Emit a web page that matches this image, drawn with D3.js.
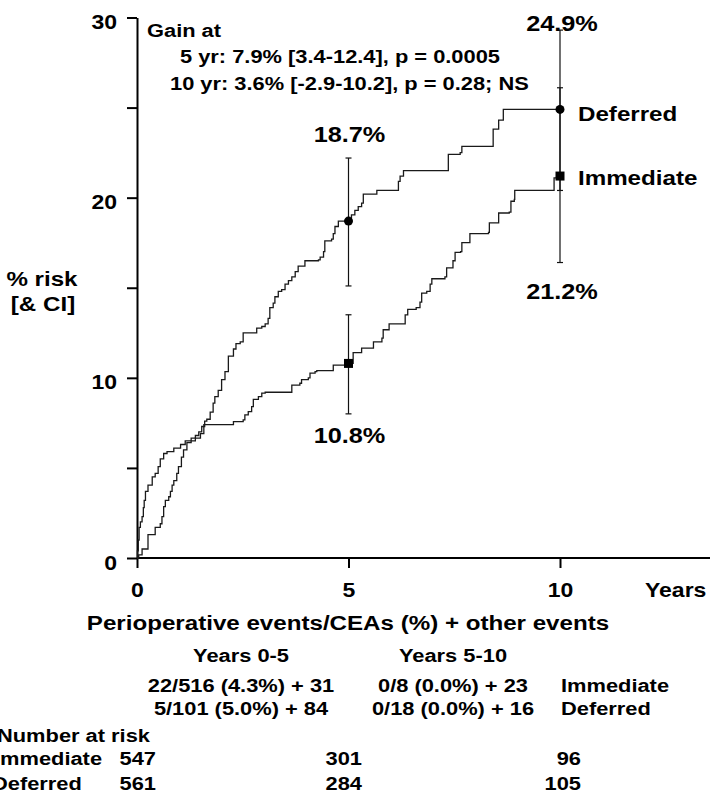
<!DOCTYPE html>
<html>
<head>
<meta charset="utf-8">
<script src="https://cdnjs.cloudflare.com/ajax/libs/d3/7.8.5/d3.min.js"></script>
<style>
  body { margin: 0; background: #fff; }
  svg text { font-family: "Liberation Sans", Arial, Helvetica, sans-serif; font-weight: bold; fill: #000; }
</style>
</head>
<body>
<div id="chart"></div>
<script>
// step curves: [years, % risk]
const immediateSteps = [[0,0],[0.01,0.4],[0.03,1.0],[0.05,1.7],[0.08,2.0],[0.12,2.3],[0.15,2.8],[0.17,3.2],[0.2,3.7],[0.26,4.05],[0.36,4.5],[0.43,4.7],[0.5,5.07],[0.55,5.5],[0.63,5.8],[0.71,5.9],[0.87,6.1],[1.03,6.3],[1.14,6.5],[1.38,6.65],[1.5,6.9],[1.58,7.4],[2.28,7.57],[2.51,7.67],[2.55,7.94],[2.63,8.13],[2.71,8.4],[2.75,8.8],[2.87,8.96],[2.95,9.15],[3.03,9.2],[3.66,9.6],[3.85,9.7],[3.89,9.9],[4.05,10.0],[4.09,10.26],[4.21,10.35],[4.25,10.4],[4.64,10.7],[4.97,10.8],[5.11,11.4],[5.31,11.65],[5.59,12.0],[5.79,12.2],[5.82,12.67],[5.96,13.0],[6.34,13.5],[6.4,13.8],[6.6,13.9],[6.69,14.2],[6.73,14.7],[6.85,14.8],[6.93,15.2],[6.97,15.5],[7.28,15.6],[7.32,16.1],[7.47,16.5],[7.52,16.96],[7.65,17.0],[7.68,17.5],[7.87,18.0],[8.31,18.07],[8.33,18.6],[8.55,19.15],[8.8,19.2],[8.84,19.8],[8.92,19.9],[8.93,20.4],[9.86,21.1],[9.92,21.2],[10,21.2]];
const deferredSteps = [[0,0],[0.04,0.17],[0.12,0.5],[0.26,1.3],[0.43,1.7],[0.55,1.9],[0.59,2.3],[0.63,2.85],[0.67,3.2],[0.75,3.4],[0.79,3.7],[0.83,4.05],[0.87,4.3],[0.94,4.7],[0.98,5.07],[1.05,5.6],[1.1,6.0],[1.18,6.4],[1.28,6.65],[1.38,6.8],[1.46,7.0],[1.53,7.3],[1.6,7.6],[1.65,7.7],[1.73,8.1],[1.8,8.6],[1.84,8.96],[1.92,9.3],[2.0,9.9],[2.08,10.35],[2.16,11.2],[2.28,11.6],[2.34,11.9],[2.44,12.0],[2.51,12.5],[2.83,12.76],[2.95,12.85],[3.03,13.0],[3.1,13.3],[3.14,13.9],[3.22,14.15],[3.26,14.5],[3.34,14.8],[3.42,14.9],[3.5,15.2],[3.58,15.4],[3.66,15.6],[3.74,15.9],[3.81,16.2],[3.97,16.5],[4.29,16.55],[4.33,16.7],[4.41,17.0],[4.44,17.6],[4.6,17.7],[4.64,18.0],[4.68,18.4],[4.76,18.7],[5.07,19.05],[5.15,19.3],[5.23,19.5],[5.31,19.7],[5.35,20.2],[5.67,20.4],[6.18,20.9],[6.22,21.2],[6.3,21.5],[7.36,22.4],[7.64,22.5],[7.68,22.85],[8.42,23.8],[8.55,24.3],[8.66,24.9],[10,24.9]];

// estimates with confidence intervals at 5 and 10 years
const ciYears = [5, 10];
const immediateAt = [10.8, 21.2];
const deferredAt = [18.7, 24.9];
const immediateCI = [[8.0, 13.5], [16.4, 26.1]];
const deferredCI = [[15.1, 22.2], [20.4, 29.3]];

const yTicks = [0, 5, 10, 15, 20, 25, 30];
const yTickLabels = [0, 10, 20, 30];
const xTicks = [0, 5, 10];

const gainLines = ["Gain at", "5 yr: 7.9% [3.4-12.4], p = 0.0005", "10 yr: 3.6% [-2.9-10.2], p = 0.28; NS"];
const periodHeads = ["Years 0-5", "Years 5-10"];
const immediateEvents = ["22/516 (4.3%) + 31", "0/8 (0.0%) + 23"];
const deferredEvents = ["5/101 (5.0%) + 84", "0/18 (0.0%) + 16"];
const riskYears = [0, 5, 10];
const immediateAtRisk = [547, 301, 96];
const deferredAtRisk = [561, 284, 105];

const SX = 1.15; // the source lettering is a little wider than Arial

class RiskChart {
    constructor(){
        this.width = 710;
        this.height = 794;
        this.svg = null;
        this.xScale = null;
        this.yScale = null;
    }

    init(){
        this.svg = d3.select("#chart").append("svg")
            .attr("width", this.width).attr("height", this.height);
        this.xScale = d3.scaleLinear().domain([0, 10]).range([137, 560]);
        this.yScale = d3.scaleLinear().domain([0, 30]).range([558, 17.5]);
    }

    label(x, y, str, size, anchor){
        return this.svg.append("text")
            .attr("transform", "translate(" + [x, y] + ") scale(" + SX + ",1)")
            .attr("text-anchor", anchor || "start")
            .style("font-size", size + "px")
            .text(str);
    }

    drawAxes(){
        let x = this.xScale, y = this.yScale;
        let xAxis = d3.axisBottom(x).tickValues(xTicks).tickSize(10).tickSizeOuter(0).tickFormat(d3.format("d"));
        let gx = this.svg.append("g").attr("transform", "translate(0," + y(0) + ")").call(xAxis);
        gx.select(".domain").attr("d", "M" + x(0) + ",0H710");
        gx.selectAll(".tick line").attr("stroke-width", 2);
        gx.selectAll(".tick text").attr("y", 0).attr("dy", 0)
            .attr("transform", "translate(0,39) scale(" + SX + ",1)")
            .style("font-size", "20px").attr("text-anchor", "middle");

        let yAxis = d3.axisLeft(y).tickValues(yTicks).tickSize(10).tickSizeOuter(0)
            .tickFormat(d => yTickLabels.includes(d) ? d : "");
        let gy = this.svg.append("g").attr("transform", "translate(" + x(0) + ",0)").call(yAxis);
        gy.selectAll(".tick line").attr("stroke-width", 2);
        gy.selectAll(".tick text").attr("x", 0).attr("dy", "0.35em")
            .attr("transform", "translate(-20,4) scale(" + SX + ",1)")
            .style("font-size", "20px").attr("text-anchor", "end");

        this.svg.selectAll(".domain").attr("stroke-width", 2);

        this.label(645, 597, "Years", 20);
        this.label(42, 286, "% risk", 21, "middle");
        this.label(43, 311, "[& CI]", 21, "middle");
    }

    drawCurves(){
        let line = d3.line().curve(d3.curveStepAfter)
            .x(d => this.xScale(d[0])).y(d => this.yScale(d[1]));
        [immediateSteps, deferredSteps].forEach(s => {
            this.svg.append("path").datum(s)
                .attr("d", line).attr("fill", "none")
                .attr("stroke", "#1a1a1a").attr("stroke-width", 1.3);
        });
    }

    drawIntervals(){
        let x = this.xScale, y = this.yScale;
        let bars = [];
        ciYears.forEach((t, i) => {
            bars.push({t: t, lo: immediateCI[i][0], hi: immediateCI[i][1]});
            bars.push({t: t, lo: deferredCI[i][0], hi: deferredCI[i][1]});
        });
        let g = this.svg.append("g").attr("stroke", "#111").attr("stroke-width", 1.2);
        g.selectAll(".ci").data(bars).enter().append("line")
            .attr("x1", d => x(d.t)).attr("x2", d => x(d.t))
            .attr("y1", d => y(d.lo)).attr("y2", d => y(d.hi));
        let caps = [];
        bars.forEach(b => { caps.push({t: b.t, v: b.lo}); caps.push({t: b.t, v: b.hi}); });
        g.selectAll(".cap").data(caps).enter().append("line")
            .attr("x1", d => x(d.t) - 3).attr("x2", d => x(d.t) + 3)
            .attr("y1", d => y(d.v)).attr("y2", d => y(d.v));

        // markers
        this.svg.selectAll(".dot").data(ciYears.map((t, i) => [t, deferredAt[i]])).enter()
            .append("circle")
            .attr("cx", d => x(d[0])).attr("cy", d => y(d[1])).attr("r", 4.5).attr("fill", "#000");
        this.svg.selectAll(".sq").data(ciYears.map((t, i) => [t, immediateAt[i]])).enter()
            .append("rect")
            .attr("x", d => x(d[0]) - 4.5).attr("y", d => y(d[1]) - 4.5)
            .attr("width", 9).attr("height", 9).attr("fill", "#000");
    }

    drawLabels(){
        let x = this.xScale;
        // value labels
        this.label(x(5) + 1, 141.7, deferredAt[0].toFixed(1) + "%", 22, "middle");
        this.label(x(5) + 1, 443, immediateAt[0].toFixed(1) + "%", 22, "middle");
        this.label(x(10) + 2, 30.7, deferredAt[1].toFixed(1) + "%", 22, "middle");
        this.label(x(10) + 2, 299.3, immediateAt[1].toFixed(1) + "%", 22, "middle");
        this.label(578, 120.7, "Deferred", 21);
        this.label(578, 185, "Immediate", 21);

        this.label(147, 36.7, gainLines[0], 19);
        this.label(180, 63, gainLines[1], 19);
        this.label(170, 90, gainLines[2], 19);

        // events table
        this.label(348, 630, "Perioperative events/CEAs (%) + other events", 21, "middle");
        let cols = [241, 453];
        periodHeads.forEach((h, i) => this.label(cols[i], 661.7, h, 19, "middle"));
        immediateEvents.forEach((h, i) => this.label(cols[i], 691.7, h, 19, "middle"));
        deferredEvents.forEach((h, i) => this.label(cols[i], 715, h, 19, "middle"));
        this.label(561, 691.7, "Immediate", 19);
        this.label(561, 715, "Deferred", 19);

        // number at risk
        let riskX = [156, 362, 581];
        this.label(-3, 741.7, "Number at risk", 19);
        this.label(-6, 765, "Immediate", 19);
        this.label(-8, 790, "Deferred", 19);
        riskYears.forEach((t, i) => {
            this.label(riskX[i], 765, immediateAtRisk[i], 19, "end");
            this.label(riskX[i], 790, deferredAtRisk[i], 19, "end");
        });
    }

    draw(){
        this.drawAxes();
        this.drawCurves();
        this.drawIntervals();
        this.drawLabels();
    }
}

let chart = new RiskChart();
chart.init();
chart.draw();
</script>
</body>
</html>
